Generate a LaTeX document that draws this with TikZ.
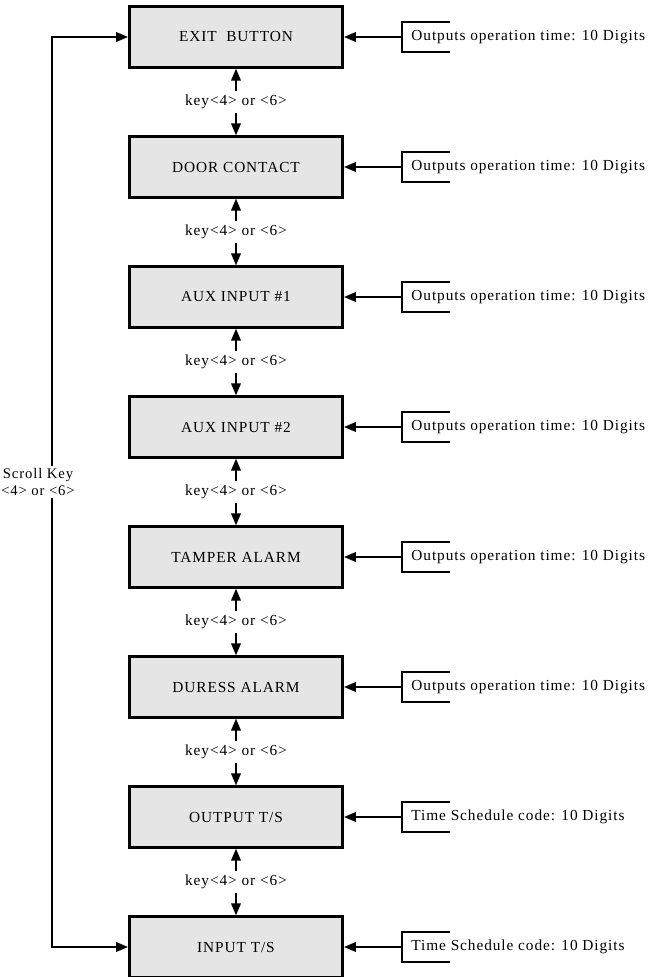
\documentclass[tikz,border=0pt]{standalone}
\usepackage{fontspec}
\setmainfont{Liberation Serif}[LetterSpace=6]
\usetikzlibrary{arrows.meta, positioning}

\begin{document}
\begin{tikzpicture}[x=0.75pt, y=0.75pt, node distance=97.5pt, >={Triangle[length=9pt, width=7pt]},
    box/.style={rectangle, draw, line width=1.8pt, fill=gray!20, minimum width=160pt, minimum height=45.5pt, align=center, font=\fontsize{11.5}{13}\selectfont},
    keylbl/.style={font=\fontsize{11.5}{13}\selectfont, inner sep=3pt},
    note/.style={font=\fontsize{11.5}{13}\selectfont, minimum height=22pt, inner xsep=7pt, inner ysep=0pt},
    arrow/.style={->, line width=1.8pt}]
  \useasboundingbox (0,0) rectangle (661,-977);
  % mode chain
  \node[box] (exit) at (236,-37) {EXIT\ \ BUTTON};
  \node[box, below of=exit] (door) {DOOR CONTACT};
  \node[box, below of=door] (aux1) {AUX INPUT \#1};
  \node[box, below of=aux1] (aux2) {AUX INPUT \#2};
  \node[box, below of=aux2] (tamper) {TAMPER ALARM};
  \node[box, below of=tamper] (duress) {DURESS ALARM};
  \node[box, below of=duress] (outts) {OUTPUT T/S};
  \node[box, below of=outts] (ints) {INPUT T/S};
  % keys between the modes
  \foreach \a/\b in {exit/door, door/aux1, aux1/aux2, aux2/tamper, tamper/duress, duress/outts, outts/ints} {
    \node[keylbl, below of=\a, node distance=48.75pt] (k-\a) {key<4> or <6>};
    \draw[arrow] (k-\a) -- (\a);
    \draw[arrow] (k-\a) -- (\b);
  }
  % settings on the right
  \foreach \m/\t in {exit/Outputs operation time: 10 Digits, door/Outputs operation time: 10 Digits,
      aux1/Outputs operation time: 10 Digits, aux2/Outputs operation time: 10 Digits,
      tamper/Outputs operation time: 10 Digits, duress/Outputs operation time: 10 Digits,
      outts/Time Schedule code: 10 Digits, ints/Time Schedule code: 10 Digits} {
    \node[note, right=43.5pt of \m] (n-\m) {\t};
    \draw[line width=1.1pt] ([xshift=36pt]n-\m.north west) -- (n-\m.north west) -- (n-\m.south west) -- ([xshift=36pt]n-\m.south west);
    \draw[arrow] (n-\m) -- (\m);
  }
  % scroll loop on the left
  \coordinate (loop) at (52,-482);
  \draw[arrow] (loop) |- (exit);
  \draw[arrow] (loop) |- (ints);
  \node[fill=white, align=center, inner sep=2pt, font=\fontsize{11}{13}\selectfont] (scroll) at (38,-482) {Scroll Key\\<4> or <6>};
\end{tikzpicture}
\end{document}
